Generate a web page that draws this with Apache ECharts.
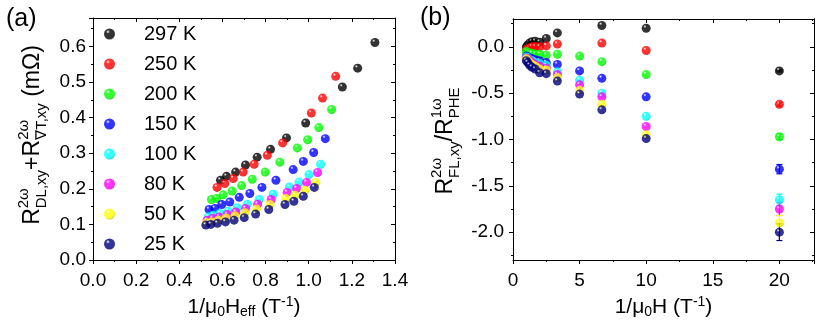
<!DOCTYPE html>
<html>
<head>
<meta charset="utf-8">
<script src="https://cdn.jsdelivr.net/npm/echarts@6/dist/echarts.min.js"></script>
<style>
html, body { margin: 0; background: #fff; }
#chart { width: 830px; height: 325px; }
</style>
</head>
<body>
<div id="chart"></div>
<script>
// temperatures, same order for both panels
const tempNames = ['297 K', '250 K', '200 K', '150 K', '100 K', '80 K', '50 K', '25 K']
const tempColors = ['#000000', '#ff0000', '#00ff00', '#0000ff', '#00ffff', '#ff00ff', '#ffff00', '#000080']
const tempDark = ['#000000', '#aa0000', '#00aa00', '#0000aa', '#00aaaa', '#aa00aa', '#aaaa00', '#000040']

// panel (a): 1/mu0Heff vs R_DL + R_dT (mOhm)
const a297x = [0.591, 0.619, 0.661, 0.707, 0.761, 0.823, 0.897, 0.986, 1.156, 1.227, 1.307]
const a297y = [0.224, 0.235, 0.247, 0.267, 0.289, 0.311, 0.343, 0.385, 0.486, 0.539, 0.611]
const a250x = [0.575, 0.611, 0.650, 0.696, 0.747, 0.808, 0.879, 1.012, 1.064, 1.125]
const a250y = [0.204, 0.215, 0.229, 0.247, 0.269, 0.294, 0.329, 0.413, 0.455, 0.516]
const a200x = [0.549, 0.573, 0.603, 0.645, 0.689, 0.738, 0.798, 0.866, 0.947, 0.995, 1.047, 1.106]
const a200y = [0.170, 0.173, 0.183, 0.194, 0.209, 0.227, 0.247, 0.275, 0.315, 0.338, 0.372, 0.423]
const a150x = [0.538, 0.565, 0.597, 0.634, 0.678, 0.727, 0.783, 0.848, 0.928, 0.975, 1.023, 1.077]
const a150y = [0.142, 0.145, 0.156, 0.163, 0.176, 0.187, 0.204, 0.224, 0.254, 0.277, 0.302, 0.341]
const a100x = [0.534, 0.557, 0.588, 0.626, 0.668, 0.715, 0.770, 0.835, 0.910, 0.955, 1.001, 1.055]
const a100y = [0.121, 0.126, 0.131, 0.137, 0.147, 0.157, 0.170, 0.185, 0.205, 0.219, 0.240, 0.269]
const a80x = [0.529, 0.554, 0.585, 0.622, 0.662, 0.707, 0.763, 0.826, 0.900, 0.944, 0.990, 1.041]
const a80y = [0.112, 0.117, 0.121, 0.128, 0.135, 0.145, 0.157, 0.170, 0.190, 0.201, 0.218, 0.246]
const a50x = [0.526, 0.549, 0.580, 0.616, 0.658, 0.704, 0.758, 0.820, 0.893, 0.936, 0.982, 1.033]
const a50y = [0.105, 0.107, 0.112, 0.118, 0.124, 0.133, 0.143, 0.156, 0.173, 0.182, 0.196, 0.218]
const a25x = [0.523, 0.546, 0.577, 0.614, 0.654, 0.701, 0.754, 0.815, 0.890, 0.931, 0.975, 1.026]
const a25y = [0.098, 0.100, 0.103, 0.107, 0.112, 0.119, 0.129, 0.142, 0.156, 0.165, 0.179, 0.204]

// panel (b): 1/mu0H vs R_FL / R_PHE, null = no point
const invH = [1.0, 1.11, 1.25, 1.43, 1.67, 2.0, 2.5, 3.33, 5, 6.67, 10, 20]
const b297 = [0.0, 0.02, 0.04, 0.055, 0.06, 0.05, 0.09, 0.15, null, 0.23, 0.20, -0.26]
const b250 = [-0.03, -0.02, -0.01, 0.0, 0.0, 0.0, 0.01, 0.03, null, 0.04, -0.04, -0.62]
const b200 = [-0.05, -0.06, -0.07, -0.07, -0.08, -0.08, -0.09, -0.08, -0.10, -0.16, -0.30, -0.97]
const b150 = [-0.10, -0.11, -0.12, -0.13, -0.14, -0.15, -0.17, -0.19, -0.26, -0.34, -0.54, -1.32]
const b100 = [-0.11, -0.12, -0.14, -0.15, -0.17, -0.18, -0.20, -0.27, -0.36, -0.50, -0.75, -1.65]
const b80 = [-0.12, -0.13, -0.15, -0.17, -0.19, -0.21, -0.23, -0.30, -0.41, -0.54, -0.86, -1.75]
const b50 = [-0.13, -0.15, -0.17, -0.19, -0.21, -0.24, -0.25, -0.33, -0.47, -0.62, -0.95, -1.90]
const b25 = [-0.15, -0.17, -0.20, -0.22, -0.24, -0.28, -0.29, -0.37, -0.51, -0.68, -0.99, -2.00]
// error bars at 1/mu0H = 20
const err20 = [0.01, 0.02, 0.03, 0.05, 0.06, 0.07, 0.08, 0.09]

const bYMajor = [-2.0, -1.5, -1.0, -0.5, 0.0]
const bYMinor = [-2.25, -1.75, -1.25, -0.75, -0.25, 0.25]

const aX = [a297x, a250x, a200x, a150x, a100x, a80x, a50x, a25x]
const aY = [a297y, a250y, a200y, a150y, a100y, a80y, a50y, a25y]
const bY = [b297, b250, b200, b150, b100, b80, b50, b25]

const FONT = '"Liberation Sans", Arial, sans-serif'

function ball(i) {
    return new echarts.graphic.RadialGradient(0.36, 0.3, 0.8, [
        { offset: 0, color: '#ffffff' },
        { offset: 0.22, color: tempColors[i] },
        { offset: 0.7, color: tempColors[i] },
        { offset: 1, color: tempDark[i] }
    ])
}

// rotated y-axis title with stacked super/subscripts
const ctx = document.createElement('canvas').getContext('2d')
function textW(t, size) {
    ctx.font = size + 'px ' + FONT
    return ctx.measureText(t).width
}
function yTitle(pieces, cx, cy) {
    const children = []
    let pos = 0
    const txt = (t, x, y, size) => ({
        type: 'text', x: x, y: y,
        style: { text: t, fontSize: size, fontFamily: FONT, fill: '#000', verticalAlign: 'middle' }
    })
    pieces.forEach(p => {
        if (typeof p === 'string') {
            children.push(txt(p, pos, 0, 23))
            pos += textW(p, 23)
        } else {
            children.push(txt(p[0], pos, -9, 15))
            children.push(txt(p[1], pos, 9, 15))
            pos += Math.max(textW(p[0], 15), textW(p[1], 15))
        }
    })
    return { type: 'group', x: cx, y: cy + pos / 2, rotation: Math.PI / 2, children: children }
}

const tickLabel = { fontSize: 19, fontFamily: FONT, color: '#000' }
const lineStyle = { color: '#000', width: 1 }
const nameRich = {
    n: { fontSize: 21, fontFamily: FONT, color: '#000', lineHeight: 24 },
    s: { fontSize: 14, fontFamily: FONT, color: '#000', lineHeight: 14, verticalAlign: 'bottom' },
    p: { fontSize: 14, fontFamily: FONT, color: '#000', lineHeight: 14, verticalAlign: 'top' }
}

function boxAxis(opts, mirror) {
    return Object.assign({
        type: 'value',
        axisLine: { show: true, onZero: false, lineStyle: lineStyle },
        axisTick: { show: true, inside: mirror, length: 4, lineStyle: lineStyle },
        minorTick: { show: true, splitNumber: 2, length: 2, lineStyle: lineStyle },
        splitLine: { show: false },
        axisLabel: mirror ? { show: false } : Object.assign({ showMaxLabel: false, formatter: v => v.toFixed(1) }, tickLabel)
    }, opts)
}

const series = []
tempNames.forEach((name, i) => {
    series.push({
        name: name, type: 'scatter', xAxisIndex: 0, yAxisIndex: 0,
        symbolSize: 9, z: 3,
        itemStyle: { color: ball(i) },
        data: aX[i].map((x, k) => [x, aY[i][k]])
    })
})
tempNames.forEach((name, i) => {
    series.push({
        name: name, type: 'scatter', xAxisIndex: 2, yAxisIndex: 2,
        symbolSize: 9, z: 3,
        itemStyle: { color: ball(i) },
        data: invH.map((x, k) => [x, bY[i][k]]).filter(d => d[1] !== null)
    })
})
series.push({
    type: 'custom', name: 'err', xAxisIndex: 2, yAxisIndex: 2, z: 2,
    data: err20.map((e, i) => [20, bY[i][11], e, i]),
    renderItem(params, api) {
        const x = api.value(0), y = api.value(1), e = api.value(2)
        const c = tempColors[api.value(3)]
        const top = api.coord([x, y + e])
        const bot = api.coord([x, y - e])
        const st = { stroke: c, lineWidth: 1.2 }
        return {
            type: 'group', children: [
                { type: 'line', shape: { x1: top[0], y1: top[1], x2: bot[0], y2: bot[1] }, style: st },
                { type: 'line', shape: { x1: top[0] - 3, y1: top[1], x2: top[0] + 3, y2: top[1] }, style: st },
                { type: 'line', shape: { x1: bot[0] - 3, y1: bot[1], x2: bot[0] + 3, y2: bot[1] }, style: st }
            ]
        }
    }
})

const chart = echarts.init(document.getElementById('chart'))
chart.setOption({
    animation: false,
    backgroundColor: '#fff',
    grid: [
        { left: 93, top: 18, width: 302, height: 242 },
        { left: 513, top: 19, width: 301, height: 241 }
    ],
    legend: {
        data: tempNames,
        orient: 'vertical',
        left: 99, top: 19,
        icon: 'circle',
        itemWidth: 11, itemHeight: 11,
        itemGap: 10,
        textStyle: { fontSize: 20, fontFamily: FONT, color: '#000', padding: [0, 0, 0, 24] },
        selectedMode: false
    },
    xAxis: [
        boxAxis({
            gridIndex: 0, position: 'bottom', min: 0, max: 1.4, interval: 0.2,
            axisLabel: Object.assign({ formatter: v => v.toFixed(1), margin: 11 }, tickLabel),
            name: '{n|1/μ}{s|0}{n|H}{s|eff}{n| (T}{p|-1}{n|)}',
            nameLocation: 'middle', nameGap: 32,
            nameTextStyle: { rich: nameRich }
        }, false),
        boxAxis({ gridIndex: 0, position: 'top', min: 0, max: 1.4, interval: 0.2 }, true),
        boxAxis({
            gridIndex: 1, position: 'bottom', min: 0, max: 22.6, interval: 5,
            axisLabel: Object.assign({ showMaxLabel: false, margin: 11 }, tickLabel),
            name: '{n|1/μ}{s|0}{n|H (T}{p|-1}{n|)}',
            nameLocation: 'middle', nameGap: 31,
            nameTextStyle: { rich: nameRich }
        }, false),
        boxAxis({ gridIndex: 1, position: 'top', min: 0, max: 22.6, interval: 5 }, true)
    ],
    yAxis: [
        boxAxis({
            gridIndex: 0, position: 'left', min: 0, max: 0.68, interval: 0.1,
            axisLabel: Object.assign({ showMaxLabel: false, margin: 7, formatter: v => v.toFixed(1) }, tickLabel)
        }, false),
        boxAxis({ gridIndex: 0, position: 'right', min: 0, max: 0.68, interval: 0.1 }, true),
        boxAxis({
            gridIndex: 1, position: 'left', min: -2.3, max: 0.3,
            minorTick: { show: false },
            axisTick: { show: true, length: 4, lineStyle: lineStyle, customValues: bYMajor },
            axisLabel: Object.assign({ margin: 9, customValues: bYMajor, formatter: v => v.toFixed(1) }, tickLabel)
        }, false),
        boxAxis({
            gridIndex: 1, position: 'right', min: -2.3, max: 0.3,
            minorTick: { show: false },
            axisTick: { show: true, inside: true, length: 4, lineStyle: lineStyle, customValues: bYMajor }
        }, true),
        boxAxis({
            gridIndex: 1, position: 'left', min: -2.3, max: 0.3,
            minorTick: { show: false }, axisLabel: { show: false },
            axisTick: { show: true, length: 2, lineStyle: lineStyle, customValues: bYMinor }
        }, true),
        boxAxis({
            gridIndex: 1, position: 'right', min: -2.3, max: 0.3,
            minorTick: { show: false },
            axisTick: { show: true, inside: true, length: 2, lineStyle: lineStyle, customValues: bYMinor }
        }, true)
    ],
    graphic: [
        { type: 'text', left: 6, top: 7, style: { text: '(a)', fontSize: 25, fontFamily: FONT, fill: '#000' } },
        { type: 'text', left: 420, top: 6, style: { text: '(b)', fontSize: 25, fontFamily: FONT, fill: '#000' } },
        yTitle(['R', ['2ω', 'DL,xy'], '+R', ['2ω', '∇T,xy'], ' (mΩ)'], 33, 135),
        yTitle(['R', ['2ω', 'FL,xy'], '/R', ['1ω', 'PHE']], 446, 141)
    ],
    series: series
})
</script>
</body>
</html>
